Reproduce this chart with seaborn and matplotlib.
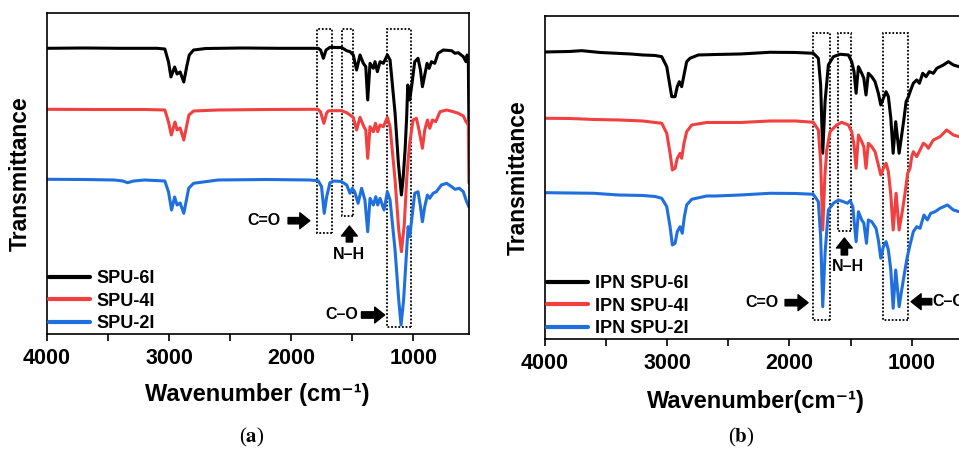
import pandas as pd
import seaborn as sns
import matplotlib.pyplot as plt
from matplotlib.lines import Line2D
from matplotlib.patches import Rectangle

# ---- panel (a): SPU films, transmittance in arbitrary units (offset traces)
a_wn_6 = [4000, 3700, 3400, 3100, 3035, 3005, 2985, 2955, 2935, 2910, 2880, 2855, 2835, 2800, 2700,
          2400, 2100, 1850, 1780, 1760, 1737, 1715, 1683, 1620, 1588, 1546, 1519, 1492, 1465, 1437,
          1410, 1390, 1374, 1355, 1328, 1314, 1295, 1273, 1246, 1213, 1191, 1150, 1123, 1098, 1085,
          1068, 1055, 1046, 1038, 1030, 1022, 1011, 989, 962, 942, 926, 907, 888, 871, 852, 825, 798,
          755, 687, 659, 632, 591, 569, 560, 550, 545]
a_t_6 = [285.7, 286.0, 285.7, 285.7, 285, 272, 257, 267, 260, 262, 252, 268, 279, 284, 285.5,
         286, 285.7, 285.7, 285.7, 284, 275.7, 284, 286.7, 286.5, 286.5, 283.3, 282.3, 279, 264, 279,
         270.7, 267.3, 234, 270.7, 265.7, 272.3, 262.3, 272.3, 270.7, 279, 274, 221, 171, 139, 154,
         184, 217, 249, 244, 234, 241, 250.7, 272.3, 275.7, 264, 247.3, 259, 270.7, 265.7, 272.3, 270.7, 280.7,
         284, 283.3, 280.7, 281.3, 277.3, 272.3, 279, 272, 207]

a_wn_4 = [4000, 3600, 3200, 3035, 3005, 2982, 2952, 2935, 2910, 2880, 2855, 2838, 2800, 2600, 2200,
          1850, 1780, 1760, 1733, 1710, 1697, 1683, 1588, 1546, 1519, 1492, 1465, 1437, 1405, 1390,
          1374, 1355, 1328, 1311, 1292, 1273, 1246, 1213, 1191, 1150, 1120, 1098, 1075, 1055, 1043,
          1030, 1003, 975, 954, 926, 907, 885, 866, 844, 817, 782, 727, 673, 632, 591, 569, 550, 545]
a_t_4 = [224.7, 224.5, 224.5, 224, 212, 199, 212, 204, 206, 194, 209, 219, 223, 224, 224.5,
         224.7, 224.7, 222, 210.7, 221, 223, 223.3, 223.3, 221.3, 219, 216.7, 204, 216.7, 207.3, 204,
         175.7, 207.3, 202.3, 210.7, 202.3, 209, 207.3, 216.7, 207.3, 154, 104, 82.3, 109, 154, 174,
         190.7, 214, 215.7, 204, 185.7, 204, 214, 205.7, 214, 212.3, 222.3, 224, 222.3, 220.7, 218, 212.3, 209, 151]

a_wn_2 = [4000, 3700, 3450, 3380, 3340, 3290, 3200, 3035, 3005, 2980, 2955, 2935, 2910, 2880, 2855,
          2840, 2800, 2600, 2200, 1850, 1780, 1752, 1730, 1710, 1683, 1650, 1590, 1546, 1519, 1500,
          1480, 1453, 1424, 1397, 1374, 1355, 1328, 1308, 1292, 1273, 1240, 1213, 1191, 1150, 1120,
          1101, 1080, 1060, 1043, 1030, 1011, 989, 962, 942, 926, 907, 885, 866, 839, 812, 771, 727,
          687, 659, 624, 591, 564, 545]
a_t_2 = [154.7, 154.5, 154, 153, 151.3, 153, 154, 153, 142, 124, 137, 129, 131, 120.7, 136,
         145.7, 150.7, 154, 154.5, 154, 153.3, 147.3, 120.7, 137.3, 151.3, 153, 152.5, 149, 140.7, 145.7,
         142, 130.7, 145.7, 134, 102.3, 135.7, 129, 137.3, 129, 135.7, 124, 142.3, 134, 84, 34,
         9, 34, 74, 107.3, 97.3, 117.3, 140.7, 142.3, 127.3, 112.3, 127.3, 139, 135.7, 140.7, 142.3, 149, 150.7,
         147.3, 144.7, 145.7, 142.3, 132.3, 127]

# ---- panel (b): IPN SPU films
b_wn_6 = [4000, 3800, 3700, 3550, 3300, 3200, 3100, 3045, 3004, 2977, 2963, 2936, 2918, 2901, 2882,
          2863, 2841, 2814, 2746, 2600, 2400, 2159, 1950, 1805, 1764, 1745, 1728, 1709, 1682, 1641,
          1586, 1518, 1491, 1472, 1455, 1436, 1409, 1392, 1374, 1355, 1327, 1300, 1273, 1253, 1232,
          1210, 1191, 1171, 1152, 1131, 1103, 1082, 1063, 1046, 1027, 1008, 987, 959, 937, 910, 883,
          856, 823, 795, 741, 700, 659, 613, 580]
b_t_6 = [287, 287.5, 288.3, 286.5, 285, 284, 283.5, 282.3, 272.3, 252.3, 242.3, 242.3, 252.3, 257.3, 252.3,
         264, 277.3, 280.7, 284, 284.5, 285, 286.7, 286.5, 285.7, 280.7, 254, 185.7, 237.3, 274, 282.3,
         284.7, 284, 277.3, 267.3, 245.7, 272.3, 265.7, 260.7, 244, 265.7, 262.3, 257.3, 245.7, 234, 240.7,
         247.3, 242.3, 220.7, 185.7, 217.3, 185.7, 204, 220.7, 237.3, 242.3, 249, 255.7, 259, 255.7, 265.7, 262.3,
         267.3, 265.7, 270.7, 274, 277.3, 274, 272.3, 272]

b_wn_4 = [4000, 3800, 3600, 3400, 3200, 3100, 3045, 3004, 2977, 2958, 2936, 2918, 2895, 2882, 2863,
          2841, 2800, 2677, 2623, 2400, 2159, 1950, 1805, 1764, 1745, 1728, 1710, 1695, 1668, 1614,
          1573, 1518, 1491, 1472, 1455, 1436, 1409, 1392, 1374, 1355, 1327, 1300, 1273, 1253, 1232,
          1210, 1191, 1171, 1152, 1128, 1103, 1075, 1055, 1033, 1014, 1000, 987, 959, 932, 905, 885,
          864, 823, 768, 714, 659, 613, 580]
b_t_4 = [220.7, 220.5, 219.5, 219, 218, 216.5, 215.7, 205.7, 185.7, 169, 170.7, 180.7, 185.7, 180.7, 195.7,
         207.3, 214, 216.5, 216.5, 216.5, 218, 218, 216.7, 209, 177.3, 109, 164, 189, 207.3, 214,
         216.7, 214, 207.3, 194, 170.7, 204, 197.3, 192.3, 170.7, 195.7, 192.3, 187.3, 174, 164, 170.7,
         175.7, 167.3, 144, 109, 145.7, 109, 129, 145.7, 165.7, 170.7, 182.3, 187.3, 182.3, 189, 195.7, 194,
         190.7, 199, 202.3, 209, 204, 202.3, 202]

b_wn_2 = [4000, 3800, 3600, 3400, 3200, 3100, 3045, 3004, 2977, 2958, 2936, 2918, 2895, 2877, 2860,
          2841, 2800, 2677, 2600, 2400, 2159, 1950, 1805, 1764, 1745, 1728, 1709, 1682, 1641, 1600,
          1559, 1527, 1504, 1482, 1472, 1455, 1436, 1409, 1392, 1370, 1355, 1327, 1292, 1273, 1253,
          1232, 1210, 1191, 1171, 1152, 1131, 1103, 1082, 1055, 1036, 1014, 987, 959, 932, 900, 872,
          845, 809, 768, 708, 659, 613, 580]
b_t_2 = [146.3, 146, 145.7, 144, 143.5, 142.5, 140.7, 132.3, 112.3, 94, 95.7, 107.3, 112.3, 105.7, 122.3,
         134, 139.7, 143, 143, 144, 145.7, 145.5, 144.7, 137.3, 102.3, 32.3, 85.7, 129, 135.7, 139,
         137.3, 135.7, 138.3, 132.3, 119, 97.3, 127.3, 119, 116, 95.7, 119, 117.3, 110.7, 99, 80.7,
         92.3, 97.3, 89, 69, 30.7, 69, 32.3, 49, 69, 82.3, 94, 107.3, 112.3, 110.7, 124, 119,
         125.7, 127.3, 130.7, 134, 129, 127.3, 127]

a_labels = ['SPU-6I', 'SPU-4I', 'SPU-2I']
b_labels = ['IPN SPU-6I', 'IPN SPU-4I', 'IPN SPU-2I']
colors = ['#000000', '#f23f3f', '#1f6fdf']

sns.set_style('white')
plt.rcParams['font.family'] = ['Liberation Sans', 'DejaVu Sans']
plt.rcParams['font.weight'] = 'bold'
plt.rcParams['axes.labelweight'] = 'bold'
plt.rcParams['text.color'] = 'black'
plt.rcParams['axes.labelcolor'] = 'black'
plt.rcParams['xtick.color'] = 'black'
plt.rcParams['mathtext.fontset'] = 'stix'


def long_frame(wns, ts, labels):
    parts = [pd.DataFrame({'wn': w, 'T': t, 'sample': lab}) for w, t, lab in zip(wns, ts, labels)]
    return pd.concat(parts, ignore_index=True)


def draw_panel(ax, df, labels, ymax):
    sns.lineplot(data=df, x='wn', y='T', hue='sample', hue_order=labels, palette=colors,
                 estimator=None, sort=True, lw=2.2, legend=False, ax=ax)
    ax.set_xlim(4000, 545)
    ax.set_ylim(0, ymax)
    ax.set_xticks([4000, 3000, 2000, 1000])
    ax.set_xticks([3500, 2500, 1500], minor=True)
    ax.set_xticklabels(['4000', '3000', '2000', '1000'])
    ax.set_yticks([])
    ax.tick_params(axis='x', which='both', bottom=True, direction='out', length=5, width=1.2,
                   labelsize=15.5, pad=5, color='black', labelcolor='black')
    for s in ax.spines.values():
        s.set_color('black')
        s.set_linewidth(1.2)
    handles = [Line2D([0], [0], color=c, lw=3) for c in colors]
    leg = ax.legend(handles, labels, loc='lower left', bbox_to_anchor=(0, 0), frameon=False,
                    fontsize=13, handlelength=2.3, handletextpad=0.35, labelspacing=0.3,
                    borderaxespad=0.0, borderpad=0.1)
    for t in leg.get_texts():
        t.set_color('black')
    ax.set_ylabel('Transmittance', fontsize=16.5, color='black')


def box(ax, x0, x1, y0, y1):
    ax.add_patch(Rectangle((x1, y0), x0 - x1, y1 - y0, fill=False, ec='black',
                           lw=1.3, ls=(0, (1, 1))))


def arrow(ax, tail, tip):
    ax.annotate('', xy=tip, xytext=tail,
                arrowprops=dict(arrowstyle='simple,head_width=0.95,head_length=0.6,tail_width=0.38',
                                color='black', mutation_scale=12, shrinkA=0, shrinkB=0))


fig = plt.figure(figsize=(9.59, 4.5), dpi=100)
ax1 = fig.add_axes([0.049, 0.2578, 0.440, 0.7133])
ax2 = fig.add_axes([0.5683, 0.2467, 0.4404, 0.7178])

draw_panel(ax1, long_frame([a_wn_6, a_wn_4, a_wn_2], [a_t_6, a_t_4, a_t_2], a_labels), a_labels, 321)
draw_panel(ax2, long_frame([b_wn_6, b_wn_4, b_wn_2], [b_t_6, b_t_4, b_t_2], b_labels), b_labels, 323)

ax1.set_xlabel('Wavenumber (cm⁻¹)', fontsize=17, color='black')
ax2.set_xlabel('Wavenumber(cm⁻¹)', fontsize=17, color='black')
ax1.xaxis.set_label_coords(0.499, -0.153)
ax2.xaxis.set_label_coords(0.4996, -0.158)
ax1.yaxis.set_label_coords(-0.036, 0.5)
ax2.yaxis.set_label_coords(-0.0355, 0.5)

# panel (a) band annotations
box(ax1, 1791, 1668, 101, 305.3)
box(ax1, 1586, 1491, 118, 305.3)
box(ax1, 1213, 1017, 6.7, 305.3)
ax1.text(2226, 113.3, 'C=O', fontsize=11.5, ha='center', va='center')
arrow(ax1, (2026, 113.3), (1848, 113.3))
ax1.text(1524, 79.7, 'N–H', fontsize=11.5, ha='center', va='center')
arrow(ax1, (1524, 92), (1524, 108))
ax1.text(1586, 19, 'C–O', fontsize=11.5, ha='center', va='center')
arrow(ax1, (1425, 19), (1235, 19))

# panel (b) band annotations
box(ax2, 1805, 1668, 18.5, 305.5)
box(ax2, 1600, 1496, 108.3, 305.5)
box(ax2, 1235, 1033, 18.5, 305.5)
ax2.text(2229, 36.3, 'C=O', fontsize=11.5, ha='center', va='center')
arrow(ax2, (2036, 36.3), (1848, 36.3))
ax2.text(1518, 72.3, 'N–H', fontsize=11.5, ha='center', va='center')
arrow(ax2, (1551, 84), (1551, 101))
ax2.text(828, 37.3, 'C–O', fontsize=11.5, ha='left', va='center')
arrow(ax2, (836, 37.3), (1005, 37.3))

fig.text(251.7 / 959, 1 - 437 / 450, r'($\mathbf{a}$)', fontsize=15, ha='center', va='center',
         family='Liberation Serif', weight='normal')
fig.text(741.7 / 959, 1 - 437 / 450, r'($\mathbf{b}$)', fontsize=15, ha='center', va='center',
         family='Liberation Serif', weight='normal')

plt.savefig('out.png', dpi=100)
